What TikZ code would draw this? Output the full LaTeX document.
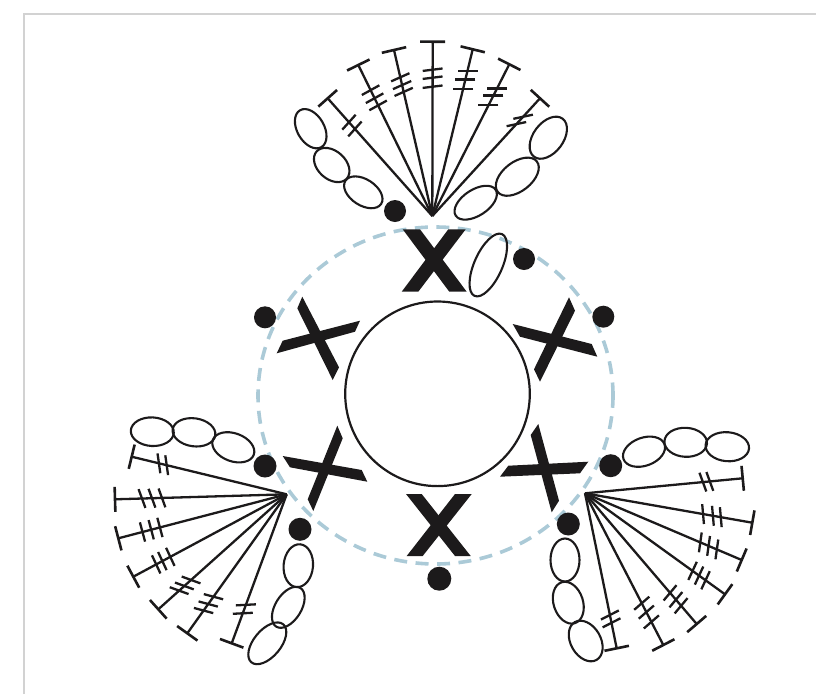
\documentclass[tikz,border=0pt]{standalone}
\usetikzlibrary{calc}
\definecolor{ink}{HTML}{1C1A1B}
\definecolor{ringblue}{HTML}{ABCAD7}
\definecolor{framegray}{HTML}{D2D2D2}
\tikzset{
  stem/.style={draw=ink,line width=2.3pt},
  chainloop/.style={draw=ink,line width=2.1pt,fill=none},
  dotmark/.style={fill=ink,draw=none},
  crossarm/.style={fill=ink,draw=none},
}
% apex, tipx, tipy, bar angle, distances from the tip
\newcommand\stitchmark[5]{%
  \coordinate (tipc) at (#2,#3);
  \draw[stem] (#1) -- (tipc);
  \draw[stem,line width=2.6pt] ($(tipc)!12.5pt!90:(#1)$) -- ($(tipc)!12.5pt!-90:(#1)$);
  \foreach \dd in {#5}{
    \coordinate (barc) at ($(tipc)!\dd pt!(#1)$);
    \draw[stem] ([shift={(#4:10pt)}]barc) -- ([shift={(#4+180:10pt)}]barc);
  }
}
% x, y, semi-major, semi-minor, angle
\newcommand\chainmark[5]{%
  \pgfmathsetmacro\semia{#3+0.8}\pgfmathsetmacro\semib{#4+2}%
  \draw[chainloop,rotate around={#5:(#1,#2)}] (#1,#2) ellipse (\semia pt and \semib pt);
}
\newcommand\dotat[3]{\fill[dotmark] (#1,#2) circle (#3pt);}
\begin{document}
\begin{tikzpicture}[x=1pt,y=-1pt]
\useasboundingbox (0,0) rectangle (816,694);
\draw[framegray,line width=2pt] (24,694) -- (24,14) -- (816,14);

% rings
\draw[ringblue,line width=3.6pt,dash pattern=on 13pt off 8.5pt] (435.5,395.5) ellipse (177.5pt and 168.5pt);
\draw[ink,line width=2.2pt] (437.5,393.8) circle (92.3pt);

% crosses
\fill[crossarm] (402.7,229.3) -- (420,229.3) -- (466.7,291.7) -- (449.3,291.7) -- cycle;
\fill[crossarm] (448.3,229.3) -- (465.7,229.3) -- (418.3,291.7) -- (401.7,291.7) -- cycle;
\fill[crossarm] (406,494) -- (421.7,494) -- (470.7,556) -- (455,556) -- cycle;
\fill[crossarm] (455,494) -- (471.7,494) -- (422.7,556) -- (406.7,556) -- cycle;
\fill[crossarm] (302.3,296.7) -- (297.3,308.3) -- (332.7,380) -- (339,367.3) -- cycle;
\fill[crossarm] (276.7,353.3) -- (282.7,340.7) -- (360,320.7) -- (355,331.7) -- cycle;
\fill[crossarm] (569,297.3) -- (575,310.7) -- (540,381.7) -- (534,369.3) -- cycle;
\fill[crossarm] (512.7,324) -- (591.7,344) -- (597.3,356.7) -- (520,336.7) -- cycle;
\fill[crossarm] (337.3,425.7) -- (342.7,438.3) -- (313.3,511) -- (307.7,499.3) -- cycle;
\fill[crossarm] (282.7,456) -- (361.7,470) -- (367.3,481.7) -- (290,467.3) -- cycle;
\fill[crossarm] (538.3,424) -- (530.7,435) -- (551.7,512.3) -- (559,500.7) -- cycle;
\fill[crossarm] (500,476.7) -- (508.3,465.7) -- (588.3,461.7) -- (580,473.3) -- cycle;

% dots
\dotat{395}{211}{11}
\dotat{524}{259}{11}
\dotat{265}{317.3}{11}
\dotat{603.3}{316.7}{11}
\dotat{265}{466}{11.5}
\dotat{300}{529.3}{11.5}
\dotat{610.7}{465.7}{11.5}
\dotat{568.3}{524}{11.5}
\dotat{439.3}{578.7}{12}

% top fan
\coordinate (apexT) at (432.3,216);
\stitchmark{apexT}{327.7}{98.3}{48}{32,41}
\stitchmark{apexT}{358.3}{65}{29}{28,37,45}
\stitchmark{apexT}{394}{50}{24}{28,36,43}
\stitchmark{apexT}{432.7}{41.7}{7}{28,36,45}
\stitchmark{apexT}{472.7}{49.3}{0}{22,31,41}
\stitchmark{apexT}{509.3}{64.3}{0}{27,35,46}
\stitchmark{apexT}{540}{98.3}{12}{25,35}
\chainmark{310.7}{128.7}{20.5}{11.5}{-60}
\chainmark{331.7}{165}{19.5}{12}{-42}
\chainmark{363.3}{192.3}{20.5}{11}{-33}
\chainmark{475.7}{202.7}{23}{11}{33}
\chainmark{517.3}{176.7}{24}{12.5}{38}
\chainmark{548.3}{137.7}{23}{13}{53}
\chainmark{488.3}{265}{33}{12}{66}

% left fan
\coordinate (apexL) at (286.7,494.3);
\stitchmark{apexL}{131.7}{456.7}{98}{28,36}
\stitchmark{apexL}{115}{499.3}{110}{27,37,47}
\stitchmark{apexL}{118.3}{538.3}{105}{25,34,43}
\stitchmark{apexL}{133.3}{576.7}{115}{26,33,42}
\stitchmark{apexL}{158.3}{609.3}{-20}{28,35,44}
\stitchmark{apexL}{187.3}{633.3}{-15}{28,36,45}
\stitchmark{apexL}{231.7}{643.3}{3}{32,41}
\chainmark{152.3}{431.7}{20.7}{12.3}{-3}
\chainmark{194}{432.3}{20.7}{12}{-8}
\chainmark{233.3}{447.3}{21}{12}{-20}
\chainmark{298.3}{565.7}{20.7}{12.7}{85}
\chainmark{288.3}{607.3}{22}{11}{58}
\chainmark{267.3}{643.3}{24}{11.5}{50}

% right fan
\coordinate (apexR) at (585,493.3);
\stitchmark{apexR}{742.7}{478.3}{110}{33,40}
\stitchmark{apexR}{752.3}{522.7}{95}{32,40,50}
\stitchmark{apexR}{741.7}{560}{82}{27,36,45}
\stitchmark{apexR}{725}{594.3}{65}{24,32,40}
\stitchmark{apexR}{696.7}{624}{50}{24,32,41}
\stitchmark{apexR}{663.3}{645}{41}{26,37,47}
\stitchmark{apexR}{616.7}{648.3}{27}{26,34}
\chainmark{644}{451.7}{21}{12}{20}
\chainmark{685.7}{442.3}{20.5}{12.5}{-3}
\chainmark{727.3}{446.7}{21}{12.5}{-5}
\chainmark{565}{560}{20.7}{12.5}{90}
\chainmark{568.3}{602.7}{20.7}{12.7}{-72}
\chainmark{585.7}{641}{21}{13}{-60}
\end{tikzpicture}
\end{document}
